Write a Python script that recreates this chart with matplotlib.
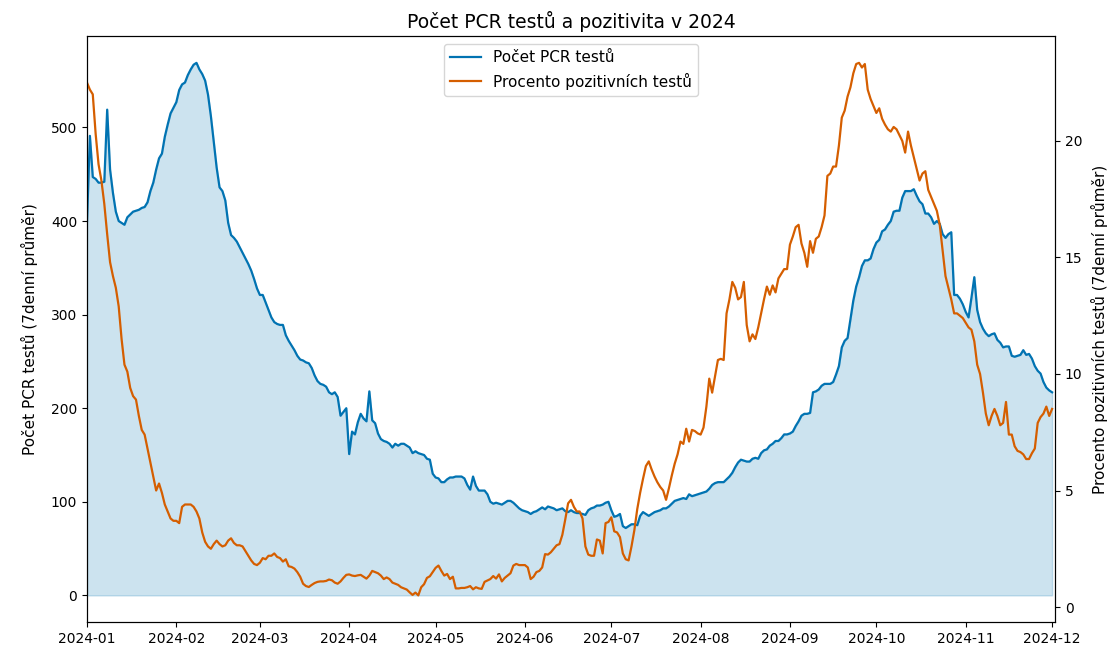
import matplotlib
matplotlib.use("Agg")
import matplotlib.pyplot as plt
import matplotlib.dates as mdates
import numpy as np
import pandas as pd

# daily values 2024-01-01 .. 2024-12-01
pcr_tests = [
    400, 491, 447, 445, 441, 441, 442, 519, 455, 430,
    410, 400, 398, 396, 404, 407, 410, 411, 412, 414,
    415, 420, 432, 441, 455, 467, 472, 490, 503, 515,
    521, 527, 540, 546, 548, 556, 562, 567, 569, 562,
    557, 550, 535, 512, 485, 457, 436, 432, 422, 398,
    385, 382, 378, 372, 366, 360, 354, 347, 338, 328,
    321, 321, 313, 305, 297, 292, 290, 289, 289, 278,
    272, 267, 262, 256, 252, 251, 249, 248, 243, 235,
    229, 226, 225, 223, 217, 215, 217, 212, 192, 196,
    200, 151, 175, 172, 185, 194, 189, 186, 218, 187,
    184, 173, 167, 165, 164, 162, 158, 162, 160, 162,
    162, 160, 158, 152, 154, 152, 151, 150, 146, 145,
    130, 126, 125, 121, 121, 124, 126, 126, 127, 127,
    127, 125, 118, 113, 127, 117, 112, 112, 112, 108,
    100, 98, 99, 98, 97, 99, 101, 101, 99, 96,
    93, 91, 90, 89, 87, 89, 90, 92, 94, 92,
    95, 94, 93, 91, 92, 93, 90, 89, 91, 89,
    88, 88, 87, 86, 91, 93, 94, 96, 96, 97,
    99, 100, 91, 84, 85, 87, 74, 72, 74, 76,
    76, 75, 85, 89, 87, 85, 87, 89, 90, 91,
    93, 93, 95, 98, 101, 102, 103, 104, 103, 108,
    106, 107, 108, 109, 110, 111, 114, 118, 120, 121,
    121, 121, 124, 127, 131, 137, 142, 145, 144, 143,
    143, 146, 147, 146, 152, 155, 156, 160, 162, 165,
    165, 168, 172, 172, 173, 175, 181, 186, 192, 194,
    194, 195, 217, 218, 220, 224, 226, 226, 226, 228,
    236, 245, 265, 272, 275, 295, 315, 330, 340, 352,
    358, 358, 360, 370, 377, 380, 389, 391, 396, 400,
    410, 411, 411, 425, 432, 432, 432, 434, 427, 421,
    418, 408, 408, 404, 397, 400, 397, 386, 382, 386,
    388, 321, 321, 317, 311, 303, 297, 318, 340, 305,
    292, 285, 280, 277, 279, 280, 273, 270, 265, 266,
    266, 256, 255, 256, 257, 262, 257, 258, 253, 245,
    240, 237, 228, 222, 219, 217,
]

positivity = [
    22.5, 22.2, 22.0, 20.3, 19.0, 18.3, 17.3, 16.0, 14.8, 14.2,
    13.7, 12.9, 11.5, 10.4, 10.1, 9.4, 9.05, 8.9, 8.2, 7.6,
    7.4, 6.8, 6.2, 5.6, 5.0, 5.3, 4.9, 4.4, 4.1, 3.8,
    3.7, 3.7, 3.6, 4.3, 4.4, 4.4, 4.4, 4.3, 4.1, 3.8,
    3.2, 2.8, 2.6, 2.5, 2.7, 2.85, 2.7, 2.6, 2.65, 2.85,
    2.95, 2.75, 2.65, 2.65, 2.6, 2.4, 2.2, 2.0, 1.85, 1.8,
    1.9, 2.1, 2.05, 2.2, 2.2, 2.3, 2.15, 2.1, 1.95, 2.05,
    1.75, 1.72, 1.65, 1.5, 1.3, 1.0, 0.9, 0.86, 0.95, 1.03,
    1.08, 1.1, 1.1, 1.12, 1.18, 1.15, 1.05, 1.0, 1.1, 1.25,
    1.38, 1.4, 1.35, 1.33, 1.36, 1.38, 1.3, 1.22, 1.35, 1.55,
    1.5, 1.45, 1.35, 1.2, 1.27, 1.2, 1.05, 1.0, 0.95, 0.85,
    0.8, 0.75, 0.63, 0.52, 0.62, 0.5, 0.85, 0.98, 1.25, 1.32,
    1.5, 1.68, 1.78, 1.55, 1.35, 1.42, 1.2, 1.3, 0.8, 0.8,
    0.82, 0.82, 0.85, 0.9, 0.76, 0.85, 0.8, 0.78, 1.08, 1.14,
    1.2, 1.33, 1.22, 1.4, 1.1, 1.25, 1.35, 1.45, 1.78, 1.85,
    1.8, 1.8, 1.8, 1.7, 1.2, 1.3, 1.5, 1.55, 1.7, 2.27,
    2.25, 2.35, 2.5, 2.65, 2.7, 3.1, 3.75, 4.45, 4.6, 4.3,
    4.1, 4.1, 3.8, 2.6, 2.25, 2.2, 2.2, 2.9, 2.85, 2.3,
    3.6, 3.65, 3.85, 3.25, 3.2, 3.0, 2.3, 2.05, 2.0, 2.6,
    3.3, 4.2, 4.9, 5.5, 6.05, 6.25, 5.9, 5.6, 5.35, 5.15,
    5.0, 4.6, 5.1, 5.65, 6.15, 6.55, 7.1, 7.0, 7.65, 7.1,
    7.6, 7.55, 7.45, 7.4, 7.7, 8.6, 9.8, 9.2, 9.9, 10.6,
    10.65, 10.6, 12.6, 13.2, 13.95, 13.7, 13.2, 13.3, 13.95, 12.1,
    11.4, 11.7, 11.5, 12.0, 12.6, 13.2, 13.75, 13.4, 13.8, 13.5,
    14.1, 14.3, 14.5, 14.5, 15.55, 15.9, 16.3, 16.4, 15.6, 15.2,
    14.6, 15.7, 15.2, 15.8, 15.9, 16.3, 16.8, 18.5, 18.6, 18.9,
    18.9, 19.8, 21.0, 21.3, 21.9, 22.3, 22.9, 23.3, 23.35, 23.15,
    23.3, 22.2, 21.8, 21.5, 21.2, 21.4, 20.95, 20.7, 20.5, 20.4,
    20.6, 20.5, 20.25, 20.0, 19.5, 20.4, 19.8, 19.3, 18.8, 18.3,
    18.6, 18.7, 17.9, 17.6, 17.3, 17.0, 16.4, 15.3, 14.2, 13.7,
    13.2, 12.6, 12.6, 12.5, 12.4, 12.2, 12.0, 11.9, 11.4, 10.4,
    10.0, 9.2, 8.3, 7.8, 8.2, 8.5, 8.2, 7.8, 7.9, 8.8,
    7.4, 7.4, 6.9, 6.7, 6.65, 6.55, 6.35, 6.35, 6.6, 6.8,
    7.9, 8.15, 8.3, 8.6, 8.2, 8.5,
]

dates = pd.date_range("2024-01-01", periods=len(pcr_tests), freq="D")

blue = "#0173b2"
orange = "#d55e00"

fig = plt.figure(figsize=(11.07, 6.48), dpi=100)
ax = fig.add_axes([0.0786, 0.0401, 0.8744, 0.904])

l1, = ax.plot(dates, pcr_tests, color=blue, lw=1.6, label="Počet PCR testů")
ax.fill_between(dates, 0, pcr_tests, color=blue, alpha=0.2)
ax.set_ylabel("Počet PCR testů (7denní průměr)", fontsize=11, labelpad=9)
ax.set_xlim(dates[0], pd.Timestamp("2024-12-02"))

ax2 = ax.twinx()
l2, = ax2.plot(dates, positivity, color=orange, lw=1.6, label="Procento pozitivních testů")
ax2.set_ylabel("Procento pozitivních testů (7denní průměr)", fontsize=11, labelpad=6)

ax.xaxis.set_major_locator(mdates.MonthLocator())
ax.xaxis.set_major_formatter(mdates.DateFormatter("%Y-%m"))

ax.set_title("Počet PCR testů a pozitivita v 2024", fontsize=13.5)
ax.legend(handles=[l1, l2], loc="upper center", fontsize=11)

fig.savefig("out.png", dpi=100)
